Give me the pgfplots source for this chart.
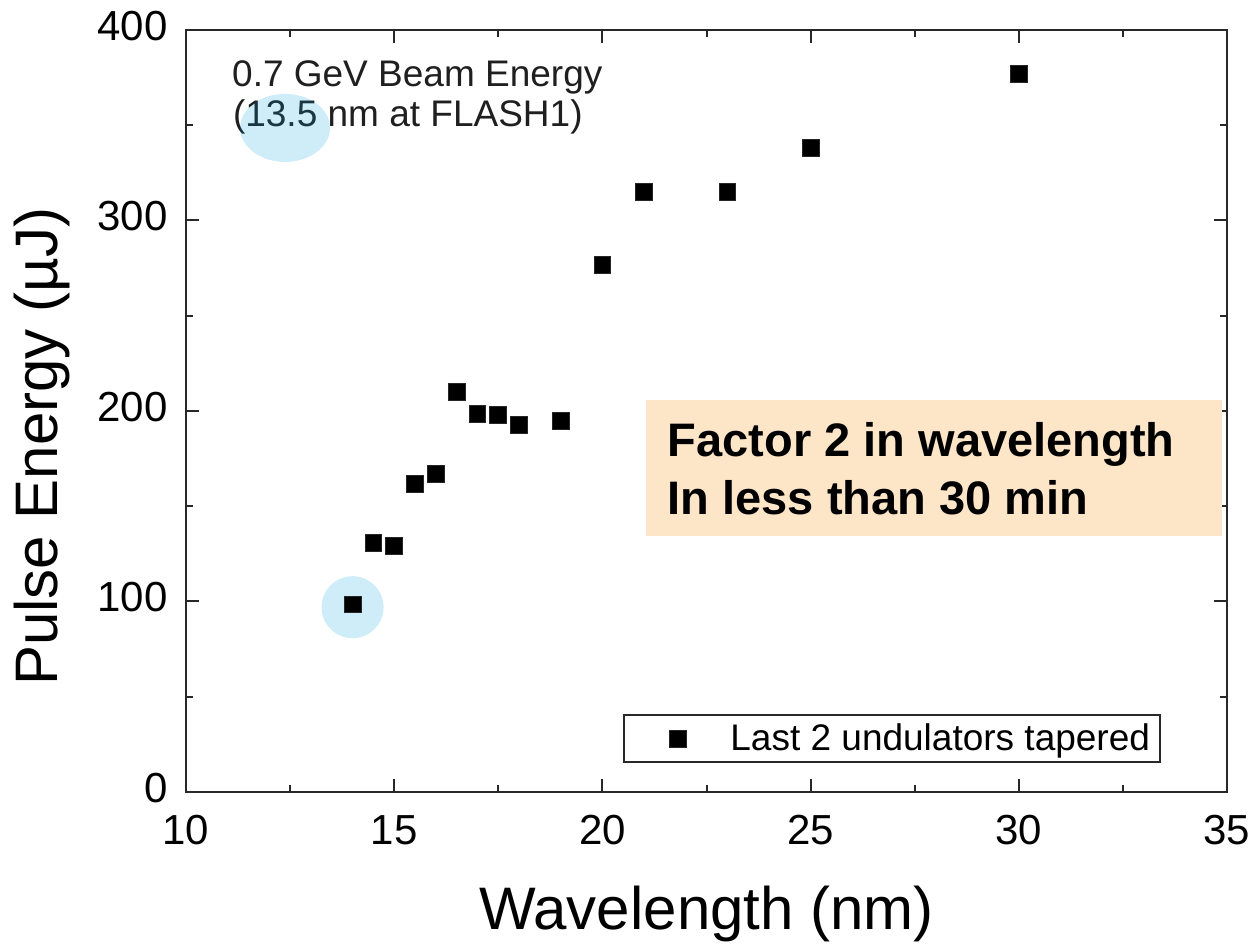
\documentclass[border=0pt]{standalone}
\usepackage{fontspec}
\setmainfont{Liberation Sans}
\usepackage{pgfplots}
\pgfplotsset{compat=1.18}
\definecolor{peach}{RGB}{253,229,200}
\definecolor{hlblue}{RGB}{0,158,221}
\definecolor{axgray}{RGB}{40,40,40}
\begin{document}
\begin{tikzpicture}
\useasboundingbox (-93pt,-80pt) rectangle (536pt,396pt);
\begin{axis}[
  scale only axis, width=520.5pt, height=381pt,
  xmin=10, xmax=35, ymin=0, ymax=400,
  xtick={10,15,20,25,30,35}, ytick={0,100,200,300,400},
  minor tick num=1,
  tick align=inside,
  major tick length=6.5pt, minor tick length=3.5pt,
  axis line style={axgray, line width=1.2pt},
  every tick/.style={axgray, line width=1pt},
  /pgf/number format/assume math mode=true,
  tick label style={font=\fontsize{21}{25}\selectfont},
  xticklabel style={anchor=north, inner sep=0pt, yshift=-11.5pt},
  yticklabel style={anchor=east, inner sep=0pt, xshift=-9pt, yshift=2pt},
  xlabel={Wavelength (nm)}, ylabel={Pulse Energy (µJ)},
  label style={font=\fontsize{30}{36}\selectfont},
  xlabel style={at={(axis description cs:0.5,-0.181)}, anchor=base, inner sep=0pt},
  ylabel style={at={(axis description cs:-0.123,0.453)}, anchor=base, inner sep=0pt},
  clip=false,
  legend style={at={(0.4198,0.038)}, anchor=south west, draw=axgray, line width=0.8pt,
    inner xsep=5pt, inner ysep=4.3pt, font=\fontsize{18.5}{22}\selectfont,
    nodes={inner sep=0pt}, cells={anchor=west}},
  legend image code/.code={\path (-21.5pt,0pt) (26pt,0pt); \draw[#1] plot coordinates {(0pt,0pt)};},
]
\fill[peach] (axis cs:21.05,134.5) rectangle (axis cs:34.88,205.8);
\node[anchor=base west, inner sep=0pt, font=\fontsize{23.5}{28}\selectfont\bfseries] at (axis cs:21.56,176.0) {Factor 2 in wavelength};
\node[anchor=base west, inner sep=0pt, font=\fontsize{23.5}{28}\selectfont\bfseries] at (axis cs:21.56,145.9) {In less than 30 min};
\node[anchor=base west, inner sep=0pt, font=\fontsize{18.5}{22}\selectfont, text=black!88] at (axis cs:11.1,370.2) {0.7 GeV Beam Energy};
\node[anchor=base west, inner sep=0pt, font=\fontsize{18.5}{22}\selectfont, text=black!88] at (axis cs:11.12,349.2) {(13.5 nm at FLASH1)};

\addplot[only marks, mark=square*, mark size=4.2pt, mark options={fill=black, draw=black!85, line width=0.4pt}] coordinates {
(14,98.5) (14.5,130.9) (15,129.1) (15.5,161.8) (16,166.8) (16.5,210.1)
(17,198.4) (17.5,197.9) (18,192.5) (19,194.9) (20,276.6) (21,315.1)
(23,315.1) (25,337.9) (30,376.9)
};
\addlegendentry{Last 2 undulators tapered}

\fill[hlblue, opacity=0.19] (axis cs:12.38,348.6) ellipse [x radius=22.5pt, y radius=17pt];
\fill[hlblue, opacity=0.19] (axis cs:14,97) circle [radius=15.5pt];
\end{axis}
\end{tikzpicture}
\end{document}
